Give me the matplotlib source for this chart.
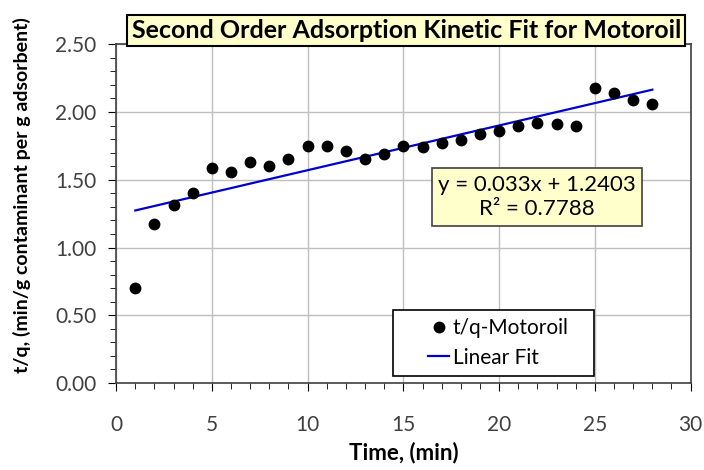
import matplotlib
matplotlib.use("Agg")
import matplotlib.pyplot as plt
import numpy as np
from matplotlib.patches import Rectangle
from matplotlib.ticker import MultipleLocator

plt.rcParams["font.family"] = ["Lato", "DejaVu Sans"]

time_min = [1, 2, 3, 4, 5, 6, 7, 8, 9, 10, 11, 12, 13, 14,
            15, 16, 17, 18, 19, 20, 21, 22, 23, 24, 25, 26, 27, 28]
tq_motoroil = [0.70, 1.17, 1.31, 1.40, 1.59, 1.56, 1.63, 1.60, 1.65, 1.75, 1.75, 1.71, 1.65, 1.69,
               1.75, 1.74, 1.77, 1.79, 1.84, 1.86, 1.90, 1.92, 1.91, 1.90, 2.18, 2.14, 2.09, 2.06]
slope = 0.033
intercept = 1.2403
r_squared = 0.7788

fig = plt.figure(figsize=(7.04, 4.70), dpi=100)
ax = fig.add_axes([0.165, 0.185, 0.816, 0.721])

ax.plot(time_min, tq_motoroil, "o", color="black", markersize=7.5, label="t/q-Motoroil", zorder=3)
fit_x = np.array([time_min[0], time_min[-1]])
ax.plot(fit_x, slope * fit_x + intercept, color="#0000CC", lw=1.6, label="Linear Fit", zorder=2)

ax.set_xlim(0, 30)
ax.set_ylim(0, 2.5)
ax.xaxis.set_major_locator(MultipleLocator(5))
ax.xaxis.set_minor_locator(MultipleLocator(1))
ax.yaxis.set_major_locator(MultipleLocator(0.5))
ax.yaxis.set_minor_locator(MultipleLocator(0.1))
ax.yaxis.set_major_formatter(plt.FormatStrFormatter("%.2f"))
ax.grid(True, which="major", color="#BFBFBF", lw=1.0)
ax.set_axisbelow(True)
ax.tick_params(which="major", direction="out", length=6, labelsize=15, labelcolor="#404040")
ax.tick_params(axis="x", which="major", pad=17)
ax.tick_params(axis="y", which="major", pad=8)
ax.tick_params(which="minor", direction="out", length=4.5)
for sp in ax.spines.values():
    sp.set_color("#404040")
    sp.set_linewidth(1.2)

ax.set_xlabel("Time, (min)", fontsize=16, fontweight="bold", labelpad=5)
ax.set_ylabel("t/q, (min/g contaminant per g adsorbent)", fontsize=14, fontweight="bold")
ax.yaxis.set_label_coords(-0.148, 0.555)

fig.text(0.577, 0.935, "Second Order Adsorption Kinetic Fit for Motoroil",
         ha="center", va="center", fontsize=18, fontweight="bold",
         bbox=dict(boxstyle="square,pad=0.17", facecolor="#FFFFCC", edgecolor="black", lw=1.5))

ax.text(0.7326, 0.549, f"y = {slope}x + {intercept}\nR² = {r_squared}",
        transform=ax.transAxes, ha="center", va="center", fontsize=16, linespacing=1.3,
        bbox=dict(boxstyle="square,pad=0.28", facecolor="#FFFFCC", edgecolor="#404040", lw=1.2))

# legend frame drawn separately: Excel-style wide box
ax.add_patch(Rectangle((0.4826, 0.0206), 0.350, 0.194, transform=ax.transAxes,
                       facecolor="white", edgecolor="black", lw=1.2, zorder=4))
leg = ax.legend(loc="center left", bbox_to_anchor=(0.524, 0.118), fontsize=15, frameon=False,
                handlelength=1.05, handletextpad=0.15, borderpad=0, labelspacing=0.45)
leg.set_zorder(5)

fig.savefig("out.png", dpi=100)
